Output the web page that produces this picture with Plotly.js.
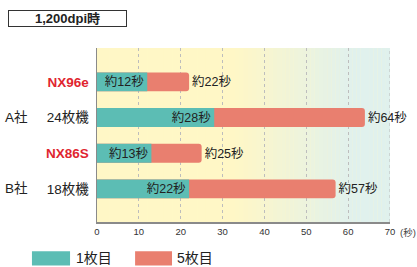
<!DOCTYPE html>
<html><head><meta charset="utf-8">
<script src="https://cdn.plot.ly/plotly-3.0.1.min.js"></script>
<style>html,body{margin:0;padding:0;background:#fff}#c{width:417px;height:267px}</style>
</head><body><div id="c"></div>
<script>
const categories = ['NX96e', 'A社 24枚機', 'NX86S', 'B社 18枚機'];
const tickLabels = ['<b><span style="color:#e0252f">NX96e</span></b>', '24枚機', '<b><span style="color:#e0252f">NX86S</span></b>', '18枚機'];
const companyLabels = ['', 'A社', '', 'B社'];
const firstPage = [12, 28, 13, 22];
const fifthPage = [22, 64, 25, 57];
const xTicks = [0, 10, 20, 30, 40, 50, 60, 70];
const legendNames = ['1枚目', '5枚目'];

const FONT = 'Liberation Sans, Noto Sans CJK JP, sans-serif';
const TEAL = '#5cbdb4', SALMON = '#e97f6f';

function lerp(a, b, t) { return Math.round(a + (b - a) * t); }
function bgColor(x) {
  const t = Math.min(1, Math.max(0, (x - 33) / (61 - 33)));
  const y = [255, 247, 198], g = [224, 241, 237];
  return 'rgb(' + lerp(y[0], g[0], t) + ',' + lerp(y[1], g[1], t) + ',' + lerp(y[2], g[2], t) + ')';
}
const xMax = xTicks[xTicks.length - 1];
const shapes = [];
for (let i = 0; i < xMax; i++) {
  shapes.push({type: 'rect', xref: 'x', yref: 'paper', x0: i, x1: i + 1.02, y0: 0, y1: 1,
    fillcolor: bgColor(i + 0.5), line: {width: 0}, layer: 'below'});
}
shapes.push({type: 'line', xref: 'x', yref: 'paper', x0: xMax, x1: xMax, y0: 0, y1: 1,
  line: {color: '#b8b8b8', width: 1, dash: '3px,3px'}, layer: 'below'});
shapes.push({type: 'rect', xref: 'paper', yref: 'paper', x0: -0.222, x1: -0.092, y0: -0.25, y1: -0.168,
  fillcolor: TEAL, line: {width: 0}});
shapes.push({type: 'rect', xref: 'paper', yref: 'paper', x0: 0.130, x1: 0.256, y0: -0.25, y1: -0.168,
  fillcolor: SALMON, line: {width: 0}});

const annotations = [];
companyLabels.forEach((c, i) => {
  if (c) annotations.push({xref: 'paper', yref: 'y', x: -0.322, y: categories[i], text: c, showarrow: false,
    xanchor: 'left', font: {family: FONT, size: 13.5, color: '#222'}});
});
annotations.push({xref: 'paper', yref: 'paper', x: -0.079, y: -0.209, text: legendNames[0], showarrow: false,
  xanchor: 'left', yanchor: 'middle', font: {family: FONT, size: 14, color: '#222'}});
annotations.push({xref: 'paper', yref: 'paper', x: 0.266, y: -0.209, text: legendNames[1], showarrow: false,
  xanchor: 'left', yanchor: 'middle', font: {family: FONT, size: 14, color: '#222'}});
annotations.push({xref: 'paper', yref: 'paper', x: -0.1, y: 1.17, text: '<b>1,200dpi時</b>', showarrow: false,
  xanchor: 'center', yanchor: 'middle',
  font: {family: FONT, size: 13, color: '#222'}, bordercolor: '#333', borderwidth: 1, width: 115, height: 13, borderpad: 1, bgcolor: '#fff'});
annotations.push({xref: 'paper', yref: 'paper', x: 1, y: -0.058, xshift: 8, text: '(秒)', showarrow: false,
  xanchor: 'left', yanchor: 'middle', font: {family: FONT, size: 9.5, color: '#444'}});

const traces = [
  {type: 'bar', orientation: 'h', y: categories, x: fifthPage, name: legendNames[1], width: 0.53,
   marker: {color: SALMON, cornerradius: 3},
   text: fifthPage.map(v => '約' + v + '秒'), textposition: 'outside', cliponaxis: false,
   textfont: {family: FONT, size: 12.5, color: '#222'}, hoverinfo: 'none'},
  {type: 'bar', orientation: 'h', y: categories, x: firstPage, name: legendNames[0], width: 0.53,
   marker: {color: TEAL},
   text: firstPage.map(v => '約' + v + '秒'), textposition: 'inside', insidetextanchor: 'end',
   constraintext: 'none', textfont: {family: FONT, size: 12.5, color: '#222'}, hoverinfo: 'none'}
];

const layout = {
  width: 417, height: 267,
  margin: {l: 97, r: 27, t: 48, b: 45},
  paper_bgcolor: '#fff', plot_bgcolor: '#fff8c8',
  barmode: 'overlay', showlegend: false,
  font: {family: FONT},
  xaxis: {range: [0, xMax], tickvals: xTicks, ticktext: xTicks.map(String), showgrid: true, gridcolor: '#bdbdbd',
    griddash: '3px,3px', gridwidth: 1, zeroline: false, showline: true, linecolor: '#8a8a8a', linewidth: 1.5,
    ticks: '', tickfont: {family: FONT, size: 9.5, color: '#333'}, fixedrange: true},
  yaxis: {type: 'category', categoryorder: 'array', categoryarray: categories, range: [3.93, -0.95],
    tickvals: categories, ticktext: tickLabels, showline: true, linecolor: '#8a8a8a', linewidth: 1.5,
    showgrid: false, ticks: '', ticklabelstandoff: 4, tickfont: {family: FONT, size: 13.5, color: '#222'}, fixedrange: true},
  shapes: shapes, annotations: annotations
};
Plotly.newPlot('c', traces, layout, {staticPlot: true, displayModeBar: false});
</script></body></html>
